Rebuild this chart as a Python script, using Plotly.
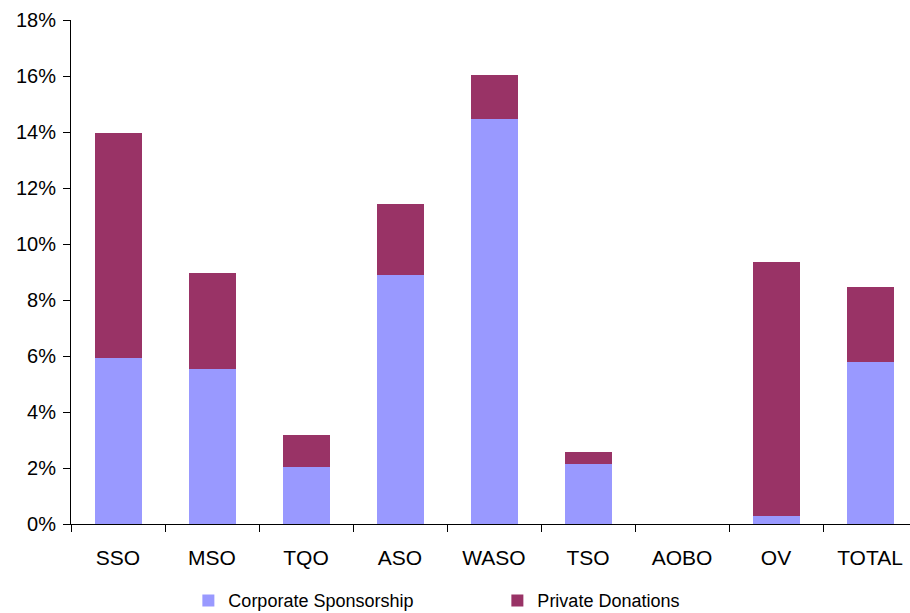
import plotly.graph_objects as go

categories = ["SSO", "MSO", "TQO", "ASO", "WASO", "TSO", "AOBO", "OV", "TOTAL"]
corporate = [5.92, 5.52, 2.03, 8.91, 14.47, 2.14, 0.0, 0.28, 5.77]
private = [8.05, 3.46, 1.14, 2.53, 1.57, 0.43, 0.0, 9.09, 2.71]
yticks = [0, 2, 4, 6, 8, 10, 12, 14, 16, 18]
ytick_labels = ["0%", "2%", "4%", "6%", "8%", "10%", "12%", "14%", "16%", "18%"]

fig = go.Figure()
fig.add_trace(go.Bar(x=categories, y=corporate, name="Corporate Sponsorship",
                     marker=dict(color="#9999FF", line=dict(width=0)), width=0.5))
fig.add_trace(go.Bar(x=categories, y=private, name="Private Donations",
                     marker=dict(color="#993366", line=dict(width=0)), width=0.5))

fig.update_layout(
    barmode="stack",
    width=910, height=613,
    margin=dict(l=71, r=0, t=20, b=89, autoexpand=False),
    paper_bgcolor="white", plot_bgcolor="white",
    font=dict(family="Liberation Sans, Arial, sans-serif", size=20, color="black"),
    showlegend=True,
    legend=dict(orientation="h", x=0.207, xref="container", xanchor="left",
                y=0.02, yref="container", yanchor="middle", traceorder="normal",
                font=dict(size=18), entrywidth=264, entrywidthmode="pixels",
                itemwidth=30, bgcolor="rgba(0,0,0,0)"),
)
fig.update_xaxes(range=[-0.5, 8.5 - 7/94], showline=True, linecolor="black", linewidth=1,
                 ticks="outside", tickson="boundaries", ticklen=7, tickcolor="black",
                 showgrid=False, tickfont=dict(size=21), ticklabelstandoff=15)
fig.update_yaxes(range=[0, 18], tickmode="array", tickvals=yticks, ticktext=ytick_labels,
                 showline=True, linecolor="black", linewidth=1, ticks="outside", ticklen=7,
                 tickcolor="black", showgrid=False, zeroline=False,
                 tickfont=dict(size=20), ticklabelstandoff=3)

fig.write_html("out.html")
